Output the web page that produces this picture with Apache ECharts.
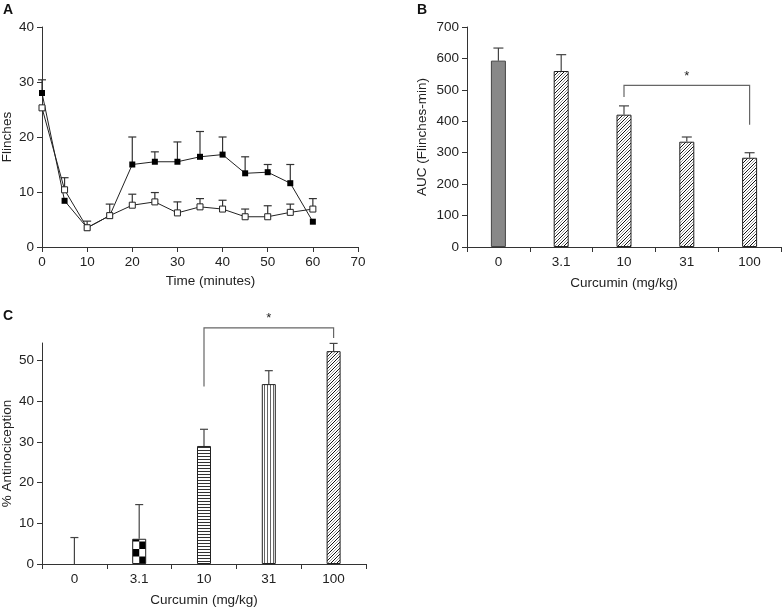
<!DOCTYPE html>
<html><head><meta charset="utf-8">
<script src="https://cdn.jsdelivr.net/npm/echarts@6/dist/echarts.min.js"></script>
<style>html,body{margin:0;padding:0;background:#fff}#c{width:782px;height:607px}</style>
</head><body><div id="c"></div>
<script>
// ---------- Panel A data ----------
const timeMin = [0,5,10,15,20,25,30,35,40,45,50,55,60];
const flinchVehicle = [28,8.4,3.5,5.7,15.0,15.5,15.5,16.4,16.8,13.4,13.6,11.6,4.6];
const flinchVehicleErrTop = [30.4,null,null,7.8,20,17.3,19.1,21,20,16.4,15,15,null];
const flinchCurcumin = [25.3,10.4,3.5,5.7,7.6,8.2,6.2,7.3,6.9,5.5,5.5,6.3,6.9];
const flinchCurcuminErrTop = [null,12.6,4.7,null,9.6,9.9,8.2,8.8,8.5,6.9,7.5,7.8,8.8];

// ---------- Panel B data ----------
const doses = ['0','3.1','10','31','100'];
const aucMean = [593,560,421,335,284];
const aucErrTop = [633,612,449,350,300];
const bracketB = [2, 4, 514, 477, 389]; // fromIdx, toIdx, top, leftEnd, rightEnd

// ---------- Panel C data ----------
const antinociception = [0,6.2,29.0,44.2,52.3];
const antiErrTop = [6.5,14.6,33.1,47.5,54.2];
const bracketC = [2, 4, 58, 43.6, 55.5];
const ticksC = [0,10,20,30,40,50];

const FONT = 'Liberation Sans, Arial, Helvetica, sans-serif';
const TXT = '#222';
const TICKFS = 13.5, NAMEFS = 13.5;

function makeCanvas(w,h,draw){const c=document.createElement('canvas');c.width=w;c.height=h;const g=c.getContext('2d');g.fillStyle='#fff';g.fillRect(0,0,w,h);draw(g);return c;}
const diagTile = makeCanvas(6,6,g=>{g.lineWidth=1;for(let c=-6;c<=18;c+=3){g.strokeStyle=(((c%6)+6)%6===0)?'#111':'#9a9a9a';g.beginPath();g.moveTo(c-6,12);g.lineTo(c+6,0);g.stroke();}});
const hTile = makeCanvas(4,3,g=>{g.fillStyle='#333';g.fillRect(0,0,4,1);});
const vTile = makeCanvas(3,4,g=>{g.fillStyle='#666';g.fillRect(0,0,1,4);});
const checkTile = makeCanvas(14,15,g=>{g.fillStyle='#000';g.fillRect(0,0,7,7.5);g.fillRect(7,7.5,7,7.5);});

function errRender(capHalf, color){ return function(params, api){
  const x = api.value(0), y = api.value(1), e = api.value(2);
  const p0 = api.coord([x,y]), p1 = api.coord([x,e]);
  const st = {stroke:color,lineWidth:1.2};
  return {type:'group', children:[
    {type:'line', shape:{x1:p0[0],y1:p0[1],x2:p1[0],y2:p1[1]}, style:st},
    {type:'line', shape:{x1:p1[0]-capHalf,y1:p1[1],x2:p1[0]+capHalf,y2:p1[1]}, style:st}
  ]};
};}
function bracketRender(b){ return function(params, api){
  const pl = api.coord([b[0], b[2]]), pr = api.coord([b[1], b[2]]);
  const pld = api.coord([b[0], b[3]]), prd = api.coord([b[1], b[4]]);
  const st = {stroke:'#666',lineWidth:1.2};
  return {type:'group', children:[
    {type:'polyline', shape:{points:[[pld[0],pld[1]],[pl[0],pl[1]],[pr[0],pr[1]],[prd[0],prd[1]]]}, style:Object.assign({fill:null},st)},
    {type:'text', style:{text:'*', x:(pl[0]+pr[0])/2, y:pl[1]-3, fill:TXT, font:'13px '+FONT, align:'center', verticalAlign:'bottom'}}
  ]};
};}

function axis(extra){
  return Object.assign({
    axisLine:{show:true,onZero:false,lineStyle:{color:'#333',width:1}},
    axisTick:{show:true,inside:false,length:5,lineStyle:{color:'#333',width:1}},
    axisLabel:{color:TXT,fontSize:TICKFS,fontFamily:FONT,margin:8},
    splitLine:{show:false},
    nameLocation:'middle',
    nameTextStyle:{color:TXT,fontSize:NAMEFS,fontFamily:FONT}
  }, extra);
}

const errA1 = timeMin.map((t,i)=>flinchVehicleErrTop[i]==null?null:[t,flinchVehicle[i],flinchVehicleErrTop[i]]).filter(Boolean);
const errA2 = timeMin.map((t,i)=>flinchCurcuminErrTop[i]==null?null:[t,flinchCurcumin[i],flinchCurcuminErrTop[i]]).filter(Boolean);

const chart = echarts.init(document.getElementById('c'), null, {renderer:'canvas'});
const BW = 15, CW = 14;
function barCData(checkX, checkY){
  return antinociception.map((v,i)=>{
    const pats=[null,{image:checkTile,repeat:'repeat',x:checkX,y:checkY},{image:hTile,repeat:'repeat'},{image:vTile,repeat:'repeat'},{image:diagTile,repeat:'repeat'}];
    return {value:v,itemStyle:i===0?{color:'#fff',borderWidth:0}:{color:pats[i],borderColor:'#222',borderWidth:1}};
  });
}
const option = {
  animation:false,
  backgroundColor:'#fff',
  textStyle:{fontFamily:FONT},
  grid:[
    {left:42, top:27, width:316, height:220, outerBoundsMode:'none'},
    {left:467, top:27, width:314, height:220, outerBoundsMode:'none'},
    {left:42, top:343, width:324, height:221, outerBoundsMode:'none'}
  ],
  xAxis:[
    axis({gridIndex:0,type:'value',min:0,max:70,interval:10,name:'Time (minutes)',nameGap:27,
      nameTextStyle:{color:TXT,fontSize:NAMEFS,fontFamily:FONT,padding:[0,0,0,21]}}),
    axis({gridIndex:1,type:'category',data:doses,name:'Curcumin (mg/kg)',nameGap:29,axisTick:{show:true,length:5,alignWithLabel:false,lineStyle:{color:'#333'}}}),
    axis({gridIndex:2,type:'category',data:doses,name:'Curcumin (mg/kg)',nameGap:29,axisTick:{show:true,length:5,alignWithLabel:false,lineStyle:{color:'#333'}}})
  ],
  yAxis:[
    axis({gridIndex:0,type:'value',min:0,max:40,interval:10,name:'Flinches',nameGap:28}),
    axis({gridIndex:1,type:'value',min:0,max:700,interval:100,name:'AUC (Flinches-min)',nameGap:38}),
    axis({gridIndex:2,type:'value',min:0,max:54.3,name:'% Antinociception',nameGap:28,
      axisLabel:{color:TXT,fontSize:TICKFS,fontFamily:FONT,margin:8,customValues:ticksC},
      axisTick:{show:true,length:5,lineStyle:{color:'#333'},customValues:ticksC}})
  ],
  graphic:[
    {type:'text',left:3,top:3,style:{text:'A',font:'bold 14px '+FONT,fill:'#111'}},
    {type:'text',left:417,top:3,style:{text:'B',font:'bold 14px '+FONT,fill:'#111'}},
    {type:'text',left:3,top:309,style:{text:'C',font:'bold 14px '+FONT,fill:'#111'}}
  ],
  series:[
    {type:'custom',xAxisIndex:0,yAxisIndex:0,renderItem:errRender(4,'#333'),data:errA1,z:1},
    {type:'custom',xAxisIndex:0,yAxisIndex:0,renderItem:errRender(4,'#333'),data:errA2,z:1},
    {type:'line',xAxisIndex:0,yAxisIndex:0,data:timeMin.map((t,i)=>[t,flinchVehicle[i]]),symbol:'rect',symbolSize:6,showSymbol:true,
      lineStyle:{color:'#222',width:1},itemStyle:{color:'#000',borderColor:'#000',borderWidth:0},z:3},
    {type:'line',xAxisIndex:0,yAxisIndex:0,data:timeMin.map((t,i)=>[t,flinchCurcumin[i]]),symbol:'rect',symbolSize:6,showSymbol:true,
      lineStyle:{color:'#222',width:1},itemStyle:{color:'#fff',borderColor:'#222',borderWidth:1},z:4},

    {type:'bar',xAxisIndex:1,yAxisIndex:1,barWidth:BW,
      data:aucMean.map((v,i)=>({value:v,itemStyle:i===0?{color:'#888',borderColor:'#444',borderWidth:1}:{color:{image:diagTile,repeat:'repeat'},borderColor:'#222',borderWidth:1}})),z:2},
    {type:'custom',xAxisIndex:1,yAxisIndex:1,renderItem:errRender(5,'#444'),data:aucMean.map((v,i)=>[i,v,aucErrTop[i]]),z:3},
    {type:'custom',xAxisIndex:1,yAxisIndex:1,renderItem:bracketRender(bracketB),data:[[bracketB[0],bracketB[2]]],z:3},

    {type:'bar',xAxisIndex:2,yAxisIndex:2,barWidth:CW,id:'barC',data:barCData(0,0),z:2},
    {type:'custom',xAxisIndex:2,yAxisIndex:2,renderItem:errRender(4,'#444'),data:antinociception.map((v,i)=>[i,v,antiErrTop[i]]),z:3},
    {type:'custom',xAxisIndex:2,yAxisIndex:2,renderItem:bracketRender(bracketC),data:[[bracketC[0],bracketC[2]]],z:3,clip:false}
  ]
};
chart.setOption(option);
const p = chart.convertToPixel({xAxisIndex:2,yAxisIndex:2},[1,0]);
chart.setOption({series:[{id:'barC',data:barCData(p[0]-CW/2,p[1])}]});
</script></body></html>
